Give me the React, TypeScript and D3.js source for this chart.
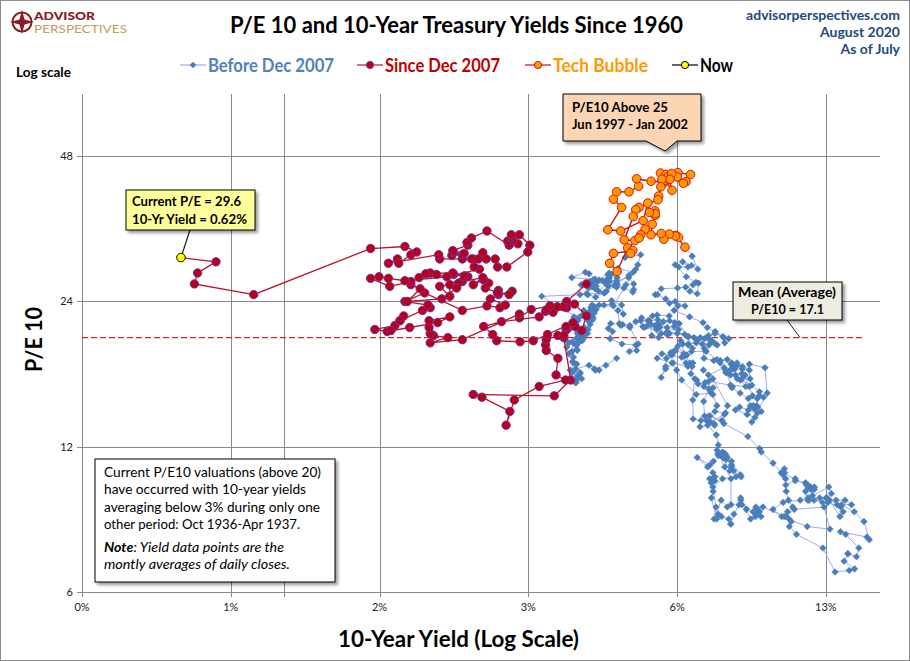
import React, { useRef, useEffect } from 'react'
import * as d3 from 'd3'

// 10-year yield (%), monthly, Jan 1960 .. Nov 2007, one row per year
const beforeYield: number[][] = [
  [4.72, 4.49, 4.25, 4.28, 4.35, 4.15, 3.90, 3.80, 3.80, 3.89, 3.93, 3.84],
  [3.84, 3.78, 3.74, 3.78, 3.71, 3.88, 3.92, 4.04, 3.98, 3.92, 3.94, 4.06],
  [4.08, 4.04, 3.93, 3.84, 3.87, 3.91, 4.01, 3.98, 3.98, 3.93, 3.92, 3.86],
  [3.83, 3.92, 3.93, 3.97, 3.93, 3.99, 4.02, 4.00, 4.08, 4.11, 4.12, 4.13],
  [4.17, 4.15, 4.22, 4.23, 4.20, 4.17, 4.19, 4.19, 4.20, 4.19, 4.15, 4.18],
  [4.19, 4.21, 4.21, 4.20, 4.21, 4.21, 4.20, 4.25, 4.29, 4.35, 4.45, 4.62],
  [4.61, 4.83, 4.87, 4.75, 4.78, 4.81, 5.02, 5.22, 5.18, 5.01, 5.16, 4.84],
  [4.58, 4.63, 4.54, 4.59, 4.85, 5.02, 5.16, 5.28, 5.30, 5.48, 5.75, 5.70],
  [5.53, 5.56, 5.74, 5.64, 5.87, 5.72, 5.50, 5.42, 5.46, 5.58, 5.70, 6.03],
  [6.04, 6.19, 6.30, 6.17, 6.32, 6.57, 6.72, 6.69, 7.16, 7.10, 7.14, 7.65],
  [7.79, 7.24, 7.07, 7.39, 7.91, 7.84, 7.46, 7.53, 7.39, 7.33, 6.84, 6.39],
  [6.24, 6.11, 5.70, 5.83, 6.39, 6.52, 6.73, 6.58, 6.14, 5.93, 5.81, 5.93],
  [5.95, 6.08, 6.07, 6.19, 6.13, 6.11, 6.11, 6.21, 6.55, 6.48, 6.28, 6.36],
  [6.46, 6.64, 6.71, 6.67, 6.85, 6.90, 7.13, 7.40, 7.09, 6.79, 6.73, 6.74],
  [6.99, 6.96, 7.21, 7.51, 7.58, 7.54, 7.81, 8.04, 8.04, 7.90, 7.68, 7.43],
  [7.50, 7.39, 7.73, 8.23, 8.06, 7.86, 8.06, 8.40, 8.43, 8.14, 8.05, 8.00],
  [7.74, 7.79, 7.73, 7.56, 7.90, 7.86, 7.83, 7.77, 7.59, 7.41, 7.29, 6.87],
  [7.21, 7.39, 7.46, 7.37, 7.46, 7.28, 7.33, 7.40, 7.34, 7.52, 7.58, 7.69],
  [7.96, 8.03, 8.04, 8.15, 8.35, 8.46, 8.64, 8.41, 8.42, 8.64, 8.81, 9.01],
  [9.10, 9.10, 9.12, 9.18, 9.25, 8.91, 8.95, 9.03, 9.33, 10.30, 10.65, 10.39],
  [10.80, 12.41, 12.75, 11.47, 10.18, 9.78, 10.25, 11.10, 11.51, 11.75, 12.68, 12.84],
  [12.57, 13.19, 13.12, 13.68, 14.10, 13.47, 14.28, 14.94, 15.32, 15.15, 13.39, 13.72],
  [14.59, 14.43, 13.86, 13.87, 13.62, 14.30, 13.95, 13.06, 12.34, 10.91, 10.55, 10.54],
  [10.46, 10.72, 10.51, 10.40, 10.38, 10.85, 11.38, 11.85, 11.65, 11.54, 11.69, 11.83],
  [11.67, 11.84, 12.32, 12.63, 13.41, 13.56, 13.36, 12.72, 12.52, 12.16, 11.57, 11.50],
  [11.38, 11.51, 11.86, 11.43, 10.85, 10.16, 10.31, 10.33, 10.37, 10.24, 9.78, 9.26],
  [9.19, 8.70, 7.78, 7.30, 7.71, 7.80, 7.30, 7.17, 7.45, 7.43, 7.25, 7.11],
  [7.08, 7.25, 7.25, 8.02, 8.61, 8.40, 8.45, 8.76, 9.42, 9.52, 8.86, 8.99],
  [8.67, 8.21, 8.37, 8.72, 9.09, 8.92, 9.06, 9.26, 8.98, 8.80, 8.96, 9.11],
  [9.09, 9.17, 9.36, 9.18, 8.86, 8.28, 8.02, 8.11, 8.19, 8.01, 7.87, 7.84],
  [8.21, 8.47, 8.59, 8.79, 8.76, 8.48, 8.47, 8.75, 8.89, 8.72, 8.39, 8.08],
  [8.09, 7.85, 8.11, 8.04, 8.07, 8.28, 8.27, 7.90, 7.65, 7.53, 7.42, 7.09],
  [7.03, 7.34, 7.54, 7.48, 7.39, 7.26, 6.84, 6.59, 6.42, 6.59, 6.87, 6.77],
  [6.60, 6.26, 5.98, 5.97, 6.04, 5.96, 5.81, 5.68, 5.36, 5.33, 5.72, 5.77],
  [5.75, 5.97, 6.48, 6.97, 7.18, 7.10, 7.30, 7.24, 7.46, 7.74, 7.96, 7.81],
  [7.78, 7.47, 7.20, 7.06, 6.63, 6.17, 6.28, 6.49, 6.20, 6.04, 5.93, 5.71],
  [5.65, 5.81, 6.27, 6.51, 6.74, 6.91, 6.87, 6.64, 6.83, 6.53, 6.20, 6.30],
  [6.58, 6.42, 6.69, 6.89, 6.71, 6.49, 6.22, 6.30, 6.21, 6.03, 5.88, 5.81],
  [5.54, 5.57, 5.65, 5.64, 5.65, 5.50, 5.46, 5.34, 4.81, 4.53, 4.83, 4.65],
  [4.72, 5.00, 5.23, 5.18, 5.54, 5.90, 5.79, 5.94, 5.92, 6.11, 6.03, 6.28],
  [6.66, 6.52, 6.26, 5.99, 6.44, 6.10, 6.05, 5.83, 5.80, 5.74, 5.72, 5.24],
  [5.16, 5.10, 4.89, 5.14, 5.39, 5.28, 5.24, 4.97, 4.73, 4.57, 4.65, 5.09],
  [5.04, 4.91, 5.28, 5.21, 5.16, 4.93, 4.65, 4.26, 3.87, 3.94, 4.05, 4.03],
  [4.05, 3.90, 3.81, 3.96, 3.57, 3.33, 3.98, 4.45, 4.27, 4.29, 4.30, 4.27],
  [4.15, 4.08, 3.83, 4.35, 4.72, 4.73, 4.50, 4.28, 4.13, 4.10, 4.19, 4.23],
  [4.22, 4.17, 4.50, 4.34, 4.14, 4.00, 4.18, 4.26, 4.20, 4.46, 4.54, 4.47],
  [4.42, 4.57, 4.72, 4.99, 5.11, 5.11, 5.09, 4.88, 4.72, 4.73, 4.60, 4.56],
  [4.76, 4.72, 4.56, 4.69, 4.75, 5.10, 5.00, 4.67, 4.52, 4.53, 4.15]
]

// P/E10, same months as beforeYield
const beforePE: number[][] = [
  [18.3, 17.7, 17.4, 17.3, 17.3, 17.7, 17.4, 17.3, 16.6, 16.3, 16.8, 17.1],
  [18.0, 18.7, 19.3, 19.7, 20.0, 19.6, 19.5, 20.1, 20.0, 20.1, 20.8, 21.2],
  [20.5, 20.6, 20.6, 19.8, 17.9, 16.3, 16.6, 17.1, 17.0, 16.6, 17.8, 18.4],
  [18.9, 19.1, 19.0, 19.8, 20.2, 20.3, 19.9, 20.4, 20.7, 20.9, 20.6, 21.0],
  [21.5, 21.8, 22.0, 22.2, 22.3, 22.3, 22.8, 22.6, 22.7, 22.8, 22.8, 22.6],
  [23.3, 23.3, 23.1, 23.4, 23.6, 22.2, 22.2, 22.7, 23.1, 23.6, 23.6, 23.7],
  [24.1, 23.6, 22.6, 23.0, 21.6, 21.4, 21.2, 19.6, 19.0, 18.9, 19.5, 19.6],
  [20.1, 20.8, 21.1, 21.6, 21.5, 21.4, 21.8, 21.9, 22.2, 21.9, 21.3, 21.5],
  [21.5, 20.4, 20.2, 21.4, 21.8, 22.0, 21.9, 21.3, 21.9, 22.4, 22.5, 22.4],
  [21.9, 21.7, 21.0, 21.3, 21.6, 20.3, 19.2, 18.9, 18.9, 19.2, 19.0, 17.9],
  [17.5, 16.9, 17.3, 16.6, 14.6, 14.1, 14.2, 14.6, 15.4, 15.5, 15.4, 16.5],
  [17.3, 17.9, 18.3, 18.7, 18.4, 17.9, 17.9, 17.6, 17.9, 17.4, 16.7, 17.6],
  [18.3, 18.6, 18.8, 19.0, 18.8, 18.8, 18.6, 19.0, 18.6, 18.5, 19.4, 19.9],
  [18.7, 17.9, 17.6, 17.0, 16.5, 16.2, 16.3, 15.9, 16.0, 16.6, 15.0, 13.7],
  [13.6, 13.2, 13.3, 12.7, 12.1, 11.8, 10.9, 10.3, 9.1, 9.0, 9.3, 8.5],
  [9.0, 9.9, 10.3, 10.4, 11.0, 11.3, 11.2, 10.5, 10.4, 10.7, 10.9, 10.7],
  [11.4, 11.6, 11.7, 11.6, 11.4, 11.5, 11.6, 11.4, 11.5, 11.2, 11.0, 11.4],
  [10.9, 10.6, 10.4, 10.3, 10.2, 10.3, 10.1, 9.7, 9.4, 8.5, 8.7, 8.6],
  [8.5, 8.3, 8.3, 8.7, 9.1, 9.1, 8.9, 9.4, 9.3, 8.9, 8.5, 8.6],
  [8.9, 8.7, 8.8, 8.8, 8.6, 8.8, 8.8, 9.0, 9.0, 8.6, 8.4, 8.6],
  [8.9, 9.0, 8.1, 8.2, 8.6, 8.9, 9.2, 9.3, 9.4, 9.5, 9.9, 9.6],
  [9.4, 9.1, 9.3, 9.3, 9.1, 9.1, 8.8, 8.4, 7.7, 7.8, 8.0, 7.9],
  [7.4, 7.1, 7.2, 7.2, 6.95, 6.7, 6.65, 6.6, 7.4, 7.9, 8.2, 8.5],
  [8.8, 9.0, 9.3, 9.7, 10.0, 10.2, 10.1, 9.8, 9.9, 9.9, 9.8, 9.8],
  [9.8, 9.3, 9.2, 9.2, 9.0, 8.8, 8.6, 9.3, 9.4, 9.4, 9.3, 9.3],
  [9.7, 10.0, 9.9, 10.0, 10.3, 10.6, 10.8, 10.6, 10.3, 10.5, 11.1, 11.7],
  [11.9, 12.6, 13.4, 13.9, 13.6, 14.0, 13.5, 13.6, 13.3, 13.4, 13.9, 13.9],
  [14.9, 15.8, 16.4, 16.1, 16.0, 16.5, 17.0, 17.8, 17.5, 15.5, 13.5, 13.8],
  [14.0, 14.3, 14.5, 14.3, 14.1, 14.6, 14.6, 14.2, 14.4, 14.6, 14.4, 14.5],
  [15.1, 15.3, 15.2, 15.6, 16.1, 16.6, 16.9, 17.4, 17.4, 17.3, 17.1, 17.3],
  [16.9, 16.6, 16.9, 16.6, 17.3, 17.6, 17.4, 16.0, 15.3, 15.1, 15.5, 15.9],
  [16.0, 17.1, 17.6, 17.8, 17.9, 17.7, 17.9, 18.2, 18.1, 18.2, 18.1, 18.3],
  [19.6, 19.8, 19.5, 19.6, 19.8, 19.5, 19.7, 19.6, 19.6, 19.5, 19.9, 20.2],
  [20.3, 20.6, 20.8, 20.5, 20.6, 20.7, 20.6, 21.0, 21.2, 21.3, 21.1, 21.2],
  [21.5, 21.2, 20.5, 20.2, 20.2, 20.1, 20.0, 20.4, 20.6, 20.3, 20.1, 19.7],
  [20.2, 20.8, 21.2, 21.7, 22.3, 23.0, 23.5, 23.5, 24.0, 23.8, 24.3, 24.8],
  [24.8, 25.5, 25.6, 25.7, 26.0, 26.2, 24.9, 25.2, 26.3, 27.0, 28.6, 28.3],
  [28.3, 29.0, 28.5, 28.0, 29.8, 31.1, 32.9, 32.6, 32.8, 33.1, 32.3, 33.2],
  [33.0, 34.7, 36.2, 37.0, 36.5, 36.7, 38.4, 35.3, 33.6, 33.8, 37.6, 39.1],
  [40.5, 40.5, 41.6, 43.1, 42.6, 42.4, 44.3, 44.0, 42.8, 40.8, 43.0, 44.4],
  [44.0, 42.5, 43.5, 43.5, 42.2, 44.2, 43.0, 43.0, 41.5, 39.7, 39.0, 37.6],
  [37.2, 36.0, 32.2, 32.1, 33.9, 33.0, 32.5, 31.0, 27.7, 28.8, 30.2, 30.6],
  [30.2, 29.6, 30.0, 28.6, 28.0, 26.0, 23.5, 23.4, 22.3, 21.9, 23.0, 22.5],
  [22.6, 21.4, 21.3, 22.2, 23.5, 24.6, 24.8, 25.0, 25.5, 25.8, 26.3, 26.7],
  [27.4, 27.6, 26.9, 26.6, 25.7, 26.0, 25.2, 24.5, 24.8, 24.9, 25.9, 26.6],
  [26.3, 26.4, 26.1, 25.2, 25.6, 26.0, 26.4, 26.2, 25.8, 25.0, 25.8, 26.3],
  [26.5, 26.4, 26.5, 26.9, 26.1, 25.4, 25.1, 25.6, 26.2, 26.9, 27.3, 27.5],
  [27.6, 27.5, 26.8, 27.6, 28.1, 27.6, 27.2, 25.9, 26.7, 27.3, 26.0]
]

// Dec 2007 .. Jul 2020
const sinceYield: number[][] = [
  [4.10],
  [3.74, 3.74, 3.51, 3.68, 3.88, 4.10, 4.01, 3.89, 3.69, 3.81, 3.53, 2.42],
  [2.52, 2.87, 2.82, 2.93, 3.29, 3.72, 3.56, 3.59, 3.40, 3.39, 3.40, 3.59],
  [3.73, 3.69, 3.73, 3.85, 3.42, 3.20, 3.01, 2.70, 2.65, 2.54, 2.76, 3.29],
  [3.39, 3.58, 3.41, 3.46, 3.17, 3.00, 3.00, 2.30, 1.98, 2.15, 2.01, 1.98],
  [1.97, 1.97, 2.17, 2.05, 1.80, 1.62, 1.53, 1.68, 1.72, 1.75, 1.65, 1.72],
  [1.91, 1.98, 1.96, 1.76, 1.93, 2.30, 2.58, 2.74, 2.81, 2.62, 2.72, 2.90],
  [2.86, 2.71, 2.72, 2.71, 2.56, 2.60, 2.54, 2.42, 2.53, 2.30, 2.33, 2.21],
  [1.88, 1.98, 2.04, 1.94, 2.20, 2.36, 2.32, 2.17, 2.17, 2.07, 2.26, 2.24],
  [2.09, 1.78, 1.89, 1.81, 1.81, 1.64, 1.50, 1.56, 1.63, 1.76, 2.14, 2.49],
  [2.43, 2.42, 2.48, 2.30, 2.30, 2.19, 2.32, 2.21, 2.20, 2.36, 2.35, 2.40],
  [2.58, 2.86, 2.84, 2.87, 2.98, 2.91, 2.89, 2.89, 3.00, 3.15, 3.12, 2.83],
  [2.71, 2.68, 2.57, 2.53, 2.40, 2.07, 2.06, 1.63, 1.70, 1.71, 1.81, 1.86],
  [1.76, 1.50, 0.87, 0.66, 0.67, 0.73, 0.62]
]

const sincePE: number[][] = [
  [26.1],
  [24.0, 23.3, 22.8, 23.4, 23.7, 22.4, 20.9, 21.3, 20.2, 16.5, 15.3, 15.4],
  [15.2, 14.2, 13.3, 15.0, 16.0, 16.5, 16.9, 18.3, 19.0, 19.5, 20.0, 20.4],
  [21.0, 20.4, 21.3, 21.7, 20.5, 19.9, 19.8, 19.9, 20.5, 21.3, 21.8, 22.3],
  [22.9, 23.4, 23.1, 23.5, 23.1, 22.2, 22.6, 20.0, 19.7, 20.2, 20.4, 20.6],
  [21.2, 21.9, 22.3, 21.7, 21.2, 20.8, 21.0, 21.4, 21.9, 22.4, 20.9, 21.9],
  [23.0, 23.3, 23.6, 24.0, 25.0, 23.0, 23.5, 23.3, 23.6, 24.3, 24.8, 25.2],
  [24.8, 25.0, 25.3, 25.0, 25.6, 26.2, 26.6, 26.0, 26.9, 26.4, 27.1, 27.3],
  [26.9, 27.5, 27.3, 27.4, 27.5, 27.0, 27.1, 26.0, 24.6, 25.8, 26.2, 25.6],
  [24.3, 24.0, 25.5, 26.0, 26.4, 25.8, 26.8, 27.0, 26.8, 26.5, 27.0, 28.0],
  [28.3, 29.4, 29.4, 29.4, 30.0, 29.9, 30.2, 30.4, 30.6, 31.4, 31.8, 32.5],
  [33.6, 31.4, 32.0, 31.6, 31.6, 32.2, 32.6, 33.0, 33.0, 31.4, 30.4, 28.3],
  [28.3, 29.4, 29.4, 30.3, 29.4, 29.4, 30.0, 28.8, 29.4, 28.8, 30.0, 30.4],
  [31.2, 30.9, 24.8, 26.1, 27.5, 29.0, 29.6]
]

// tech bubble = Jun 1997 .. Jan 2002 of the "before" series (month index from Jan 1960)
const bubbleFrom = (1997 - 1960) * 12 + 5
const bubbleTo = (2002 - 1960) * 12 + 0

const xTickValues = [0.391, 0.782, 1.564, 3.128, 6.256, 12.512]
const yTickValues = [6, 12, 24, 48]
const extraGridYield = 1
const meanLinePE = 20.2

const legendItems = [
  { label: 'Before Dec 2007', color: '#4F81BD', kind: 'before' },
  { label: 'Since Dec 2007', color: '#C00000', kind: 'since' },
  { label: 'Tech Bubble', color: '#FF9900', kind: 'bubble' },
  { label: 'Now', color: '#000000', kind: 'now' }
]

const noteLines = [
  'Current P/E10 valuations  (above 20)',
  'have occurred with 10-year yields',
  'averaging below 3% during only one',
  'other period: Oct 1936-Apr 1937.'
]

interface Pt { yld: number; pe: number }

const flatten = (ys: number[][], ps: number[][]): Pt[] =>
  ys.flatMap((row, i) => row.map((v, j) => ({ yld: v, pe: ps[i][j] })))

const FONT = 'Lato, "DejaVu Sans", sans-serif'

const App: React.FC = () => {
  const svgRef = useRef<SVGSVGElement>(null)

  useEffect(() => {
    if (!svgRef.current) return
    const svg = d3.select(svgRef.current)
    svg.selectAll('*').remove()

    const W = 910
    const H = 661
    const plot = { left: 82, right: 880, top: 94, bottom: 592 }

    const x = d3.scaleLog().base(2).domain([0.391, 16.1]).range([plot.left, plot.right])
    const y = d3.scaleLog().base(2).domain([6, 64.6]).range([plot.bottom, plot.top])

    const before = flatten(beforeYield, beforePE)
    const since = flatten(sinceYield, sincePE)
    const bubble = before.slice(bubbleFrom, bubbleTo + 1)
    const now = since[since.length - 1]

    const defs = svg.append('defs')
    const sh = defs.append('filter').attr('id', 'shadow').attr('x', '-10%').attr('y', '-10%')
      .attr('width', '130%').attr('height', '140%')
    sh.append('feDropShadow').attr('dx', 2.5).attr('dy', 2.5).attr('stdDeviation', 1.5)
      .attr('flood-color', '#000').attr('flood-opacity', 0.4)

    svg.append('rect').attr('x', 0.5).attr('y', 0.5).attr('width', W - 1).attr('height', H - 1)
      .attr('fill', '#fff').attr('stroke', '#8c8c8c')

    // grid
    const grid = svg.append('g').attr('stroke', '#8a8a8a').attr('stroke-width', 1)
    yTickValues.slice(1).forEach(v => {
      grid.append('line').attr('x1', plot.left).attr('x2', plot.right)
        .attr('y1', Math.round(y(v)) + 0.5).attr('y2', Math.round(y(v)) + 0.5)
    })
    ;[...xTickValues.slice(1), extraGridYield].forEach(v => {
      grid.append('line').attr('y1', plot.top).attr('y2', plot.bottom + 5)
        .attr('x1', Math.round(x(v)) + 0.5).attr('x2', Math.round(x(v)) + 0.5)
    })
    // axes
    grid.append('line').attr('x1', plot.left + 0.5).attr('x2', plot.left + 0.5)
      .attr('y1', plot.top).attr('y2', plot.bottom + 5)
    grid.append('line').attr('x1', plot.left - 5).attr('x2', plot.right)
      .attr('y1', plot.bottom + 0.5).attr('y2', plot.bottom + 0.5)
    yTickValues.forEach(v => {
      grid.append('line').attr('x1', plot.left - 5).attr('x2', plot.left)
        .attr('y1', Math.round(y(v)) + 0.5).attr('y2', Math.round(y(v)) + 0.5)
    })

    const fmtX = d3.format('.0%')
    svg.append('g').selectAll('text').data(xTickValues).enter().append('text')
      .attr('x', d => x(d)).attr('y', plot.bottom + 19)
      .attr('text-anchor', 'middle').attr('font-size', 11).attr('fill', '#222')
      .attr('font-family', FONT).text(d => fmtX(d / 100))
    svg.append('g').selectAll('text').data(yTickValues).enter().append('text')
      .attr('x', plot.left - 9).attr('y', d => y(d)).attr('dy', '0.35em')
      .attr('text-anchor', 'end').attr('font-size', 11).attr('fill', '#222')
      .attr('font-family', FONT).text(d => String(d))

    // mean line
    svg.append('line').attr('x1', plot.left).attr('x2', x(15))
      .attr('y1', y(meanLinePE)).attr('y2', y(meanLinePE))
      .attr('stroke', '#E2232A').attr('stroke-width', 1.4).attr('stroke-dasharray', '6,3')

    const line = d3.line<Pt>().x(d => x(d.yld)).y(d => y(d.pe))
    const diamond = 'M0,-3.3L3.3,0L0,3.3L-3.3,0Z'

    // before Dec 2007
    svg.append('path').datum(before).attr('d', line).attr('fill', 'none')
      .attr('stroke', '#A3A8F2').attr('stroke-width', 1)
    svg.append('g').selectAll('path').data(before).enter().append('path')
      .attr('d', diamond).attr('transform', d => `translate(${x(d.yld)},${y(d.pe)})`)
      .attr('fill', '#4A7EBB').attr('stroke', '#4A7EBB').attr('stroke-width', 0.6)

    // since Dec 2007
    svg.append('path').datum(since).attr('d', line).attr('fill', 'none')
      .attr('stroke', '#C0102A').attr('stroke-width', 1.3)
    svg.append('g').selectAll('circle').data(since.slice(0, -1)).enter().append('circle')
      .attr('cx', d => x(d.yld)).attr('cy', d => y(d.pe)).attr('r', 4.2)
      .attr('fill', '#B80018').attr('stroke', '#7030A0').attr('stroke-width', 1)

    // tech bubble
    svg.append('path').datum(bubble).attr('d', line).attr('fill', 'none')
      .attr('stroke', '#C81010').attr('stroke-width', 1.3)
    svg.append('g').selectAll('circle').data(bubble).enter().append('circle')
      .attr('cx', d => x(d.yld)).attr('cy', d => y(d.pe)).attr('r', 4.3)
      .attr('fill', '#FF9A00').attr('stroke', '#E01010').attr('stroke-width', 1)

    // now
    svg.append('line').attr('x1', 190).attr('y1', 230).attr('x2', x(now.yld) + 1).attr('y2', y(now.pe) - 3)
      .attr('stroke', '#222').attr('stroke-width', 1.2)
    svg.append('circle').attr('cx', x(now.yld)).attr('cy', y(now.pe)).attr('r', 4.3)
      .attr('fill', '#FFFF00').attr('stroke', '#000').attr('stroke-width', 1)

    // callout: current
    const cur = svg.append('g')
    cur.append('rect').attr('x', 126).attr('y', 190).attr('width', 129).attr('height', 40)
      .attr('fill', '#FFFF99').attr('stroke', '#000').attr('filter', 'url(#shadow)')
    cur.append('text').attr('x', 132).attr('y', 206).text(`Current P/E = ${now.pe}`)
      .attr('textLength', 109)
    cur.append('text').attr('x', 132).attr('y', 224).text(`10-Yr Yield = ${now.yld}%`)
      .attr('textLength', 115)
    cur.selectAll('text').attr('font-family', FONT).attr('font-weight', 700).attr('font-size', 13)
      .attr('lengthAdjust', 'spacingAndGlyphs').attr('fill', '#000')

    // callout: tech bubble
    const tb = svg.append('g')
    tb.append('path')
      .attr('d', 'M563,94H701V141H677L665,151L646,141H563Z')
      .attr('fill', '#FCD5B4').attr('stroke', '#000').attr('filter', 'url(#shadow)')
    tb.append('text').attr('x', 572).attr('y', 112).text('P/E10 Above 25').attr('textLength', 96)
    tb.append('text').attr('x', 572).attr('y', 129).text('Jun 1997  - Jan 2002').attr('textLength', 116)
    tb.selectAll('text').attr('font-family', FONT).attr('font-weight', 700).attr('font-size', 13.5)
      .attr('lengthAdjust', 'spacingAndGlyphs').attr('fill', '#000')

    // callout: mean
    const mb = svg.append('g')
    mb.append('line').attr('x1', 787).attr('y1', 320).attr('x2', 800).attr('y2', y(meanLinePE))
      .attr('stroke', '#222').attr('stroke-width', 1)
    mb.append('rect').attr('x', 733).attr('y', 282).attr('width', 109).attr('height', 38)
      .attr('fill', '#EEECE1').attr('stroke', '#000').attr('filter', 'url(#shadow)')
    mb.append('text').attr('x', 738).attr('y', 297).text('Mean (Average)').attr('textLength', 98)
    mb.append('text').attr('x', 751).attr('y', 314).text('P/E10  = 17.1').attr('textLength', 73)
    mb.selectAll('text').attr('font-family', FONT).attr('font-weight', 700).attr('font-size', 13.5)
      .attr('lengthAdjust', 'spacingAndGlyphs').attr('fill', '#000')

    // note box
    const nb = svg.append('g').attr('font-family', FONT).attr('font-size', 12.5).attr('fill', '#000')
    nb.append('rect').attr('x', 95).attr('y', 459).attr('width', 240).attr('height', 123)
      .attr('fill', '#fff').attr('stroke', '#000').attr('filter', 'url(#shadow)')
    const noteWidths = [217, 202, 216, 196]
    noteLines.forEach((t, i) => {
      nb.append('text').attr('x', 104).attr('y', [477, 494, 512, 529][i]).text(t)
        .attr('textLength', noteWidths[i]).attr('lengthAdjust', 'spacingAndGlyphs')
    })
    const n5 = nb.append('text').attr('x', 104).attr('y', 552).attr('font-style', 'italic')
      .attr('textLength', 180).attr('lengthAdjust', 'spacingAndGlyphs')
    n5.append('tspan').attr('font-weight', 700).text('Note')
    n5.append('tspan').text(': Yield  data points are the')
    nb.append('text').attr('x', 104).attr('y', 569).attr('font-style', 'italic')
      .attr('textLength', 186).attr('lengthAdjust', 'spacingAndGlyphs')
      .text('montly averages of daily closes.')

    // legend
    const legX = [180, 357, 525, 672]
    const legTextW = [126, 115, 95, 33]
    const lg = svg.append('g')
    legendItems.forEach((it, i) => {
      const x0 = legX[i]
      const g = lg.append('g')
      const lineColor = it.kind === 'before' ? '#A3A8F2' : it.kind === 'now' ? '#000' : '#C0102A'
      g.append('line').attr('x1', x0).attr('x2', x0 + 26).attr('y1', 65).attr('y2', 65)
        .attr('stroke', lineColor).attr('stroke-width', 1.2)
      if (it.kind === 'before') {
        g.append('path').attr('d', diamond).attr('transform', `translate(${x0 + 13},65)`)
          .attr('fill', '#4A7EBB')
      } else {
        const fill = it.kind === 'since' ? '#B80018' : it.kind === 'bubble' ? '#FF9A00' : '#FFFF00'
        const stroke = it.kind === 'since' ? '#7030A0' : it.kind === 'bubble' ? '#E01010' : '#000'
        g.append('circle').attr('cx', x0 + 13).attr('cy', 65).attr('r', 3.6)
          .attr('fill', fill).attr('stroke', stroke)
      }
      g.append('text').attr('x', x0 + 28).attr('y', 71.5).text(it.label)
        .attr('font-family', FONT).attr('font-weight', 700).attr('font-size', 18.5)
        .attr('fill', it.color).attr('textLength', legTextW[i]).attr('lengthAdjust', 'spacingAndGlyphs')
    })

    // titles
    svg.append('text').attr('x', 230).attr('y', 33).text('P/E 10 and 10-Year Treasury Yields Since 1960')
      .attr('font-family', FONT).attr('font-weight', 700).attr('font-size', 23.5).attr('fill', '#000')
      .attr('textLength', 453).attr('lengthAdjust', 'spacingAndGlyphs')
    svg.append('text').attr('x', 338).attr('y', 647).text('10-Year Yield (Log Scale)')
      .attr('font-family', FONT).attr('font-weight', 700).attr('font-size', 22).attr('fill', '#000')
      .attr('textLength', 241).attr('lengthAdjust', 'spacingAndGlyphs')
    svg.append('text').attr('transform', 'translate(42,372) rotate(-90)').text('P/E 10')
      .attr('font-family', FONT).attr('font-weight', 700).attr('font-size', 23).attr('fill', '#000')
      .attr('textLength', 65).attr('lengthAdjust', 'spacingAndGlyphs')
    svg.append('text').attr('x', 16).attr('y', 77).text('Log scale')
      .attr('font-family', FONT).attr('font-weight', 700).attr('font-size', 13).attr('fill', '#000')
      .attr('textLength', 55).attr('lengthAdjust', 'spacingAndGlyphs')

    const src = ['advisorperspectives.com', 'August 2020', 'As of July']
    src.forEach((t, i) => {
      svg.append('text').attr('x', 900).attr('y', 20 + i * 17).text(t)
        .attr('text-anchor', 'end').attr('font-family', FONT).attr('font-weight', 700)
        .attr('font-size', 14).attr('fill', '#1F497D')
    })

    // logo: mark plus a two-line wordmark
    const logo = svg.append('g')
    logo.append('circle').attr('cx', 22).attr('cy', 22).attr('r', 9.5)
      .attr('fill', 'none').attr('stroke', '#8B1A22').attr('stroke-width', 2)
    logo.append('path')
      .attr('d', 'M22,10L24.5,19.5L34,22L24.5,24.5L22,34L19.5,24.5L10,22L19.5,19.5Z')
      .attr('fill', '#8B1A22')
    logo.append('circle').attr('cx', 22).attr('cy', 22).attr('r', 3).attr('fill', '#8B1A22')
    logo.append('text').attr('x', 34).attr('y', 19.5).text('ADVISOR')
      .attr('font-family', FONT).attr('font-weight', 900).attr('font-size', 12)
      .attr('fill', '#8B1A22').attr('textLength', 61).attr('lengthAdjust', 'spacingAndGlyphs')
    logo.append('text').attr('x', 34).attr('y', 33).text('PERSPECTIVES')
      .attr('font-family', FONT).attr('font-weight', 400).attr('font-size', 11)
      .attr('fill', '#BFA064').attr('textLength', 93).attr('lengthAdjust', 'spacingAndGlyphs')
  }, [])

  return (
    <div style={{ position: 'absolute', left: 0, top: 0 }}>
      <svg ref={svgRef} width={910} height={661} style={{ display: 'block' }} />
    </div>
  )
}

export default App
